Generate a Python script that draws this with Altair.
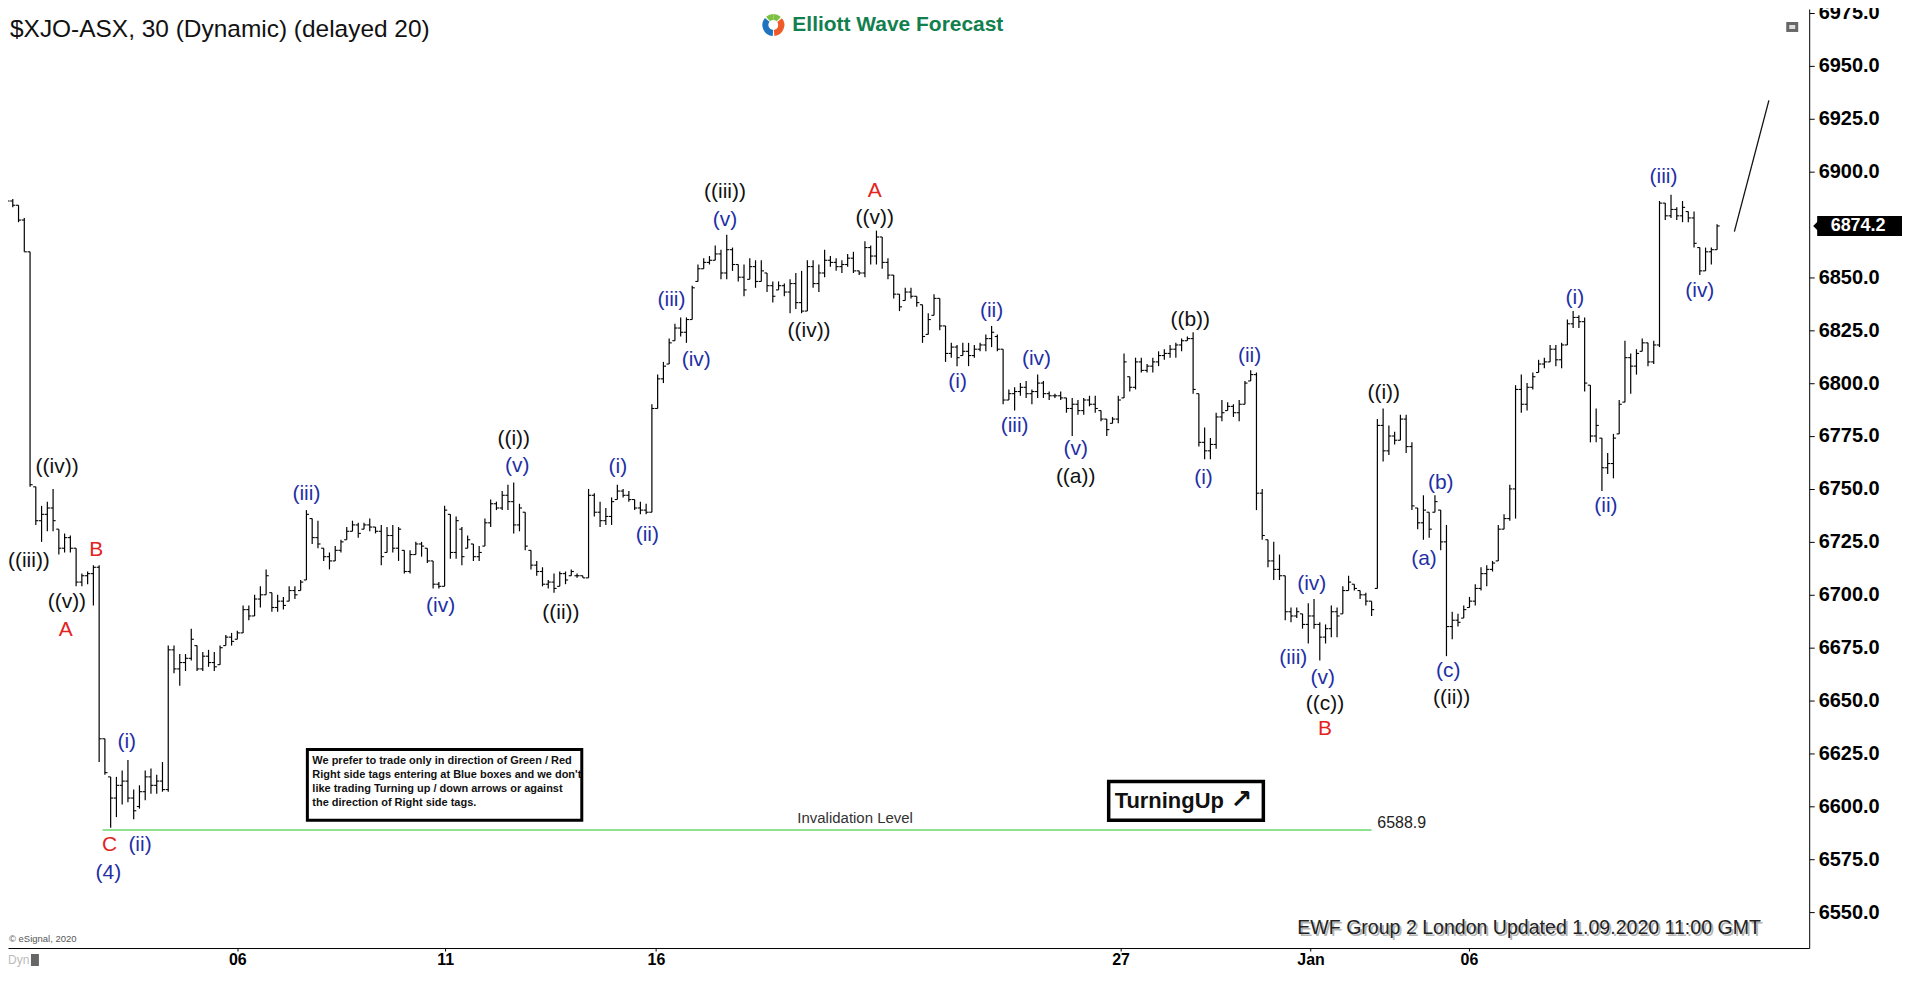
import altair as alt
import pandas as pd

# ---------------- price bars (30-minute OHLC, bar index 0..297) ----------------
highs = [
    6887, 6887, 6884, 6878, 6862, 6751, 6742, 6744, 6750, 6731,
    6729, 6728, 6722, 6710, 6711, 6714, 6714, 6632, 6614, 6614,
    6617, 6622, 6608, 6610, 6617, 6618, 6615, 6621, 6676, 6676,
    6672, 6672, 6684, 6676, 6673, 6674, 6673, 6676, 6681, 6682,
    6683, 6695, 6695, 6700, 6704, 6712, 6701, 6700, 6699, 6704,
    6704, 6707, 6740, 6736, 6735, 6722, 6720, 6723, 6726, 6732,
    6735, 6734, 6734, 6736, 6732, 6733, 6732, 6733, 6732, 6721,
    6721, 6725, 6725, 6722, 6716, 6706, 6742, 6738, 6737, 6732,
    6728, 6724, 6723, 6736, 6745, 6744, 6749, 6752, 6753, 6743,
    6739, 6721, 6716, 6713, 6707, 6710, 6711, 6711, 6712, 6710,
    6709, 6750, 6748, 6744, 6741, 6746, 6752, 6750, 6749, 6745,
    6744, 6743, 6790, 6804, 6810, 6821, 6828, 6831, 6831, 6846,
    6856, 6859, 6860, 6865, 6863, 6870, 6864, 6856, 6856, 6859,
    6858, 6858, 6852, 6848, 6848, 6847, 6849, 6852, 6853, 6858,
    6858, 6856, 6863, 6860, 6859, 6858, 6861, 6862, 6853, 6867,
    6865, 6872, 6869, 6859, 6851, 6842, 6845, 6845, 6841, 6837,
    6833, 6842, 6840, 6827, 6819, 6818, 6819, 6819, 6818, 6819,
    6823, 6827, 6823, 6816, 6797, 6798, 6800, 6801, 6797, 6804,
    6801, 6796, 6795, 6796, 6793, 6793, 6792, 6793, 6794, 6794,
    6787, 6783, 6784, 6794, 6814, 6803, 6812, 6812, 6809, 6812,
    6815, 6816, 6818, 6819, 6821, 6822, 6824, 6795, 6779, 6774,
    6786, 6792, 6791, 6790, 6792, 6801, 6806, 6805, 6750, 6726,
    6725, 6719, 6709, 6694, 6694, 6691, 6696, 6698, 6687, 6686,
    6695, 6694, 6704, 6709, 6705, 6702, 6701, 6697, 6783, 6788,
    6780, 6777, 6785, 6785, 6772, 6741, 6747, 6739, 6747, 6740,
    6733, 6692, 6691, 6695, 6699, 6705, 6713, 6714, 6716, 6733,
    6738, 6752, 6799, 6804, 6800, 6805, 6811, 6812, 6818, 6818,
    6819, 6830, 6834, 6832, 6831, 6799, 6788, 6774, 6767, 6776,
    6792, 6820, 6814, 6816, 6821, 6819, 6820, 6886, 6885, 6889,
    6883, 6886, 6881, 6881, 6864, 6864, 6864, 6875,
]
lows = [
    6884, 6883, 6876, 6862, 6751, 6733, 6725, 6730, 6730, 6719,
    6720, 6720, 6704, 6704, 6705, 6695, 6621, 6615, 6590, 6595,
    6601, 6602, 6594, 6599, 6603, 6606, 6606, 6607, 6607, 6663,
    6657, 6664, 6669, 6664, 6664, 6666, 6664, 6667, 6676, 6676,
    6679, 6682, 6688, 6690, 6694, 6700, 6692, 6692, 6693, 6697,
    6698, 6702, 6707, 6724, 6722, 6716, 6712, 6716, 6720, 6726,
    6730, 6727, 6731, 6730, 6729, 6714, 6720, 6720, 6716, 6710,
    6710, 6719, 6718, 6715, 6703, 6703, 6704, 6717, 6717, 6714,
    6722, 6716, 6716, 6723, 6732, 6740, 6740, 6740, 6729, 6730,
    6721, 6712, 6709, 6704, 6703, 6701, 6704, 6705, 6709, 6708,
    6708, 6708, 6737, 6732, 6733, 6733, 6745, 6746, 6744, 6740,
    6738, 6738, 6739, 6788, 6800, 6809, 6820, 6822, 6819, 6830,
    6848, 6854, 6856, 6858, 6849, 6849, 6853, 6848, 6841, 6849,
    6845, 6848, 6843, 6838, 6844, 6841, 6833, 6835, 6833, 6834,
    6845, 6843, 6850, 6855, 6853, 6852, 6855, 6852, 6851, 6850,
    6856, 6856, 6854, 6849, 6840, 6834, 6839, 6840, 6836, 6819,
    6823, 6832, 6825, 6810, 6812, 6808, 6813, 6808, 6812, 6815,
    6815, 6817, 6815, 6790, 6792, 6787, 6794, 6793, 6790, 6793,
    6793, 6792, 6793, 6792, 6786, 6775, 6785, 6785, 6789, 6786,
    6782, 6775, 6781, 6781, 6793, 6796, 6797, 6805, 6805, 6805,
    6808, 6811, 6812, 6812, 6815, 6820, 6795, 6770, 6764, 6764,
    6769, 6782, 6787, 6784, 6782, 6790, 6801, 6740, 6726, 6713,
    6707, 6707, 6688, 6687, 6689, 6684, 6677, 6684, 6669, 6677,
    6680, 6680, 6691, 6702, 6702, 6698, 6695, 6690, 6703, 6763,
    6766, 6771, 6773, 6767, 6740, 6731, 6726, 6727, 6739, 6721,
    6671, 6679, 6685, 6689, 6694, 6695, 6702, 6704, 6711, 6716,
    6731, 6735, 6736, 6786, 6787, 6797, 6805, 6807, 6810, 6808,
    6807, 6818, 6826, 6826, 6796, 6772, 6772, 6749, 6757, 6755,
    6776, 6791, 6795, 6804, 6815, 6808, 6809, 6817, 6877, 6878,
    6877, 6876, 6876, 6864, 6851, 6853, 6856, 6863,
]
opens = [
    6885, 6886, 6884, 6877, 6862, 6751, 6735, 6738, 6741, 6731,
    6722, 6727, 6722, 6706, 6709, 6710, 6713, 6632, 6614, 6604,
    6610, 6612, 6604, 6600, 6607, 6614, 6610, 6612, 6608, 6674,
    6665, 6668, 6670, 6676, 6665, 6671, 6668, 6667, 6676, 6680,
    6679, 6682, 6693, 6690, 6698, 6700, 6701, 6694, 6697, 6697,
    6702, 6702, 6707, 6736, 6727, 6722, 6718, 6716, 6721, 6726,
    6730, 6733, 6731, 6733, 6732, 6730, 6720, 6728, 6722, 6721,
    6711, 6719, 6724, 6722, 6716, 6705, 6704, 6738, 6720, 6731,
    6722, 6724, 6718, 6723, 6734, 6743, 6741, 6747, 6744, 6733,
    6739, 6721, 6714, 6711, 6705, 6706, 6704, 6710, 6709, 6709,
    6709, 6708, 6747, 6739, 6735, 6737, 6745, 6749, 6747, 6745,
    6741, 6740, 6739, 6788, 6802, 6809, 6820, 6826, 6824, 6830,
    6848, 6854, 6857, 6858, 6861, 6852, 6863, 6856, 6850, 6849,
    6855, 6848, 6852, 6846, 6844, 6846, 6843, 6847, 6838, 6834,
    6855, 6847, 6852, 6858, 6857, 6855, 6856, 6859, 6853, 6852,
    6864, 6860, 6869, 6857, 6851, 6842, 6839, 6843, 6841, 6837,
    6823, 6832, 6840, 6827, 6814, 6817, 6813, 6815, 6813, 6816,
    6818, 6821, 6822, 6816, 6792, 6795, 6796, 6798, 6795, 6796,
    6800, 6795, 6794, 6794, 6793, 6788, 6790, 6787, 6792, 6790,
    6787, 6783, 6781, 6783, 6793, 6803, 6798, 6810, 6806, 6808,
    6810, 6813, 6814, 6816, 6818, 6820, 6821, 6795, 6772, 6768,
    6771, 6784, 6787, 6789, 6786, 6790, 6801, 6804, 6748, 6726,
    6716, 6712, 6709, 6692, 6690, 6691, 6686, 6690, 6686, 6680,
    6684, 6692, 6691, 6702, 6705, 6702, 6700, 6697, 6703, 6780,
    6768, 6775, 6773, 6783, 6770, 6741, 6734, 6739, 6739, 6740,
    6725, 6685, 6688, 6689, 6694, 6697, 6703, 6710, 6712, 6716,
    6731, 6736, 6750, 6797, 6790, 6798, 6805, 6809, 6810, 6816,
    6811, 6818, 6828, 6831, 6829, 6799, 6775, 6774, 6760, 6762,
    6776, 6791, 6812, 6808, 6815, 6819, 6810, 6818, 6885, 6879,
    6882, 6879, 6881, 6878, 6864, 6853, 6862, 6863,
]
closes = [
    6886, 6884, 6877, 6862, 6752, 6735, 6738, 6741, 6735, 6722,
    6727, 6722, 6706, 6709, 6710, 6713, 6632, 6616, 6604, 6610,
    6612, 6604, 6598, 6607, 6614, 6610, 6612, 6608, 6674, 6665,
    6668, 6670, 6679, 6665, 6671, 6668, 6666, 6675, 6680, 6678,
    6682, 6693, 6690, 6698, 6700, 6709, 6694, 6697, 6695, 6702,
    6700, 6706, 6738, 6727, 6724, 6718, 6716, 6721, 6725, 6730,
    6733, 6729, 6733, 6732, 6730, 6718, 6728, 6722, 6731, 6711,
    6719, 6724, 6723, 6716, 6705, 6704, 6740, 6720, 6735, 6718,
    6726, 6718, 6720, 6734, 6743, 6741, 6747, 6744, 6733, 6741,
    6723, 6714, 6711, 6705, 6706, 6703, 6710, 6707, 6711, 6709,
    6708, 6747, 6739, 6735, 6737, 6744, 6749, 6747, 6745, 6741,
    6740, 6739, 6788, 6802, 6808, 6819, 6826, 6824, 6830, 6845,
    6854, 6857, 6858, 6861, 6852, 6863, 6856, 6850, 6844, 6855,
    6848, 6853, 6846, 6841, 6846, 6843, 6847, 6838, 6834, 6855,
    6847, 6852, 6858, 6857, 6855, 6856, 6859, 6853, 6852, 6864,
    6860, 6869, 6857, 6851, 6842, 6836, 6843, 6841, 6838, 6822,
    6830, 6840, 6827, 6814, 6817, 6812, 6815, 6813, 6816, 6818,
    6821, 6824, 6816, 6792, 6795, 6796, 6798, 6795, 6796, 6800,
    6795, 6794, 6794, 6793, 6788, 6790, 6787, 6792, 6790, 6788,
    6783, 6778, 6783, 6792, 6810, 6798, 6810, 6806, 6808, 6810,
    6813, 6814, 6816, 6818, 6820, 6821, 6797, 6772, 6768, 6771,
    6784, 6786, 6789, 6786, 6790, 6800, 6804, 6748, 6728, 6716,
    6712, 6709, 6692, 6690, 6692, 6686, 6690, 6686, 6680, 6684,
    6692, 6690, 6702, 6706, 6703, 6700, 6697, 6693, 6780, 6768,
    6775, 6773, 6783, 6770, 6742, 6734, 6740, 6731, 6744, 6725,
    6685, 6688, 6687, 6693, 6697, 6703, 6710, 6712, 6715, 6731,
    6736, 6750, 6797, 6790, 6798, 6803, 6809, 6810, 6816, 6811,
    6818, 6828, 6831, 6829, 6800, 6775, 6780, 6760, 6762, 6774,
    6790, 6812, 6808, 6814, 6819, 6810, 6818, 6885, 6879, 6882,
    6879, 6883, 6878, 6866, 6853, 6862, 6863, 6874.2,
]

# ---------------- axes ----------------
date_tick_idx = [40.0, 76.1, 112.7, 193.4, 226.4, 253.9]
date_tick_lbl = ["06", "11", "16", "27", "Jan", "06"]
price_ticks = [6550.0, 6575.0, 6600.0, 6625.0, 6650.0, 6675.0, 6700.0, 6725.0, 6750.0,
               6775.0, 6800.0, 6825.0, 6850.0, 6900.0, 6925.0, 6950.0, 6975.0]

# ---------------- Elliott wave labels ----------------
wave_text = ["((iii))", "((iv))", "B", "((v))", "A", "(i)", "C", "(ii)", "(4)", "(iii)",
             "(iv)", "((i))", "(v)", "((ii))", "(i)", "(ii)", "(iii)", "(iv)", "((iii))", "(v)",
             "((iv))", "A", "((v))", "(i)", "(ii)", "(iii)", "(iv)", "(v)", "((a))", "((b))",
             "(i)", "(ii)", "(iv)", "(iii)", "(v)", "((c))", "B", "((i))", "(b)", "(a)",
             "(c)", "((ii))", "(i)", "(ii)", "(iii)", "(iv)"]
wave_i = [3.8, 8.7, 15.5, 10.4, 10.2, 20.8, 17.8, 23.1, 17.6, 52.0,
          75.3, 88.0, 88.6, 96.2, 106.1, 111.2, 115.4, 119.7, 124.7, 124.7,
          139.3, 150.7, 150.7, 165.1, 171.0, 175.0, 178.8, 185.6, 185.6, 205.5,
          207.8, 215.8, 226.6, 223.4, 228.5, 228.9, 228.9, 239.1, 249.0, 246.1,
          250.3, 250.9, 272.3, 277.7, 287.7, 294.0]
wave_v = [6716.1, 6760.3, 6721.3, 6696.5, 6683.3, 6630.4, 6581.6, 6581.6, 6568.4, 6747.7,
          6694.8, 6773.5, 6760.9, 6691.3, 6760.3, 6728.2, 6839.0, 6810.9, 6890.2, 6877.0,
          6824.7, 6890.8, 6878.1, 6800.6, 6833.9, 6779.9, 6811.5, 6769.0, 6755.7, 6829.9,
          6755.2, 6812.6, 6705.2, 6670.1, 6660.9, 6648.3, 6636.8, 6795.4, 6752.9, 6716.7,
          6663.8, 6651.1, 6840.2, 6741.9, 6897.1, 6843.7]
wave_degree = ["minute", "minute", "inter", "minute", "inter", "minor", "inter", "minor", "minor", "minor",
               "minor", "minute", "minor", "minute", "minor", "minor", "minor", "minor", "minute", "minor",
               "minute", "inter", "minute", "minor", "minor", "minor", "minor", "minor", "minute", "minute",
               "minor", "minor", "minor", "minor", "minor", "minute", "inter", "minute", "minor", "minor",
               "minor", "minute", "minor", "minor", "minor", "minor"]

# invalidation level and projection
inval_level = 6588.9
inval_start, inval_end = 16.6, 237.0
inval_text_i = 147.3
proj_i = [300.0, 306.0]
proj_v = [6871.5, 6933.5]
last_price = 6874.2

disclaimer = ["We prefer to trade only in direction of Green / Red",
              "Right side tags entering at Blue boxes and we don't",
              "like trading Turning up / down arrows or against",
              "the direction of Right side tags."]

# ---------------- chart ----------------
PLOT_W, PLOT_H = 1805, 941
SANS = "Liberation Sans"
NARROW = "Liberation Sans Narrow, Arial Narrow, Liberation Sans"

xs = alt.Scale(domain=[0.17, 313.0], nice=False, zero=False)
ys = alt.Scale(domain=[6533.16, 6976.68], nice=False, zero=False)

bars = pd.DataFrame({"i": list(range(len(highs))), "open": opens, "high": highs,
                     "low": lows, "close": closes})

label_expr = "".join(f"datum.value == {v} ? '{t}' : " for v, t in zip(date_tick_idx, date_tick_lbl)) + "''"

x_axis = alt.Axis(values=date_tick_idx, labelExpr=label_expr, orient="bottom", grid=False,
                  title=None, domainColor="black", domainWidth=1, tickColor="black",
                  tickSize=3, labelPadding=1, labelFont=NARROW, labelFontSize=16,
                  labelFontWeight="bold", labelColor="black", labelOverlap=False,
                  labelFlush=False)
y_axis = alt.Axis(values=price_ticks, format=".1f", orient="right", grid=False, title=None,
                  domainColor="black", domainWidth=1, tickColor="black", tickSize=5,
                  labelPadding=4, labelFont=SANS, labelFontSize=20, labelFontWeight="bold",
                  labelColor="black", labelOverlap=False, labelFlush=False)


def X(field):
    return alt.X(field, scale=xs, axis=x_axis)


def Y(field):
    return alt.Y(field, scale=ys, axis=y_axis)


hl = alt.Chart(bars).mark_rule(color="black", strokeWidth=1.2).encode(
    x=X("i:Q"), y=Y("low:Q"), y2="high:Q")
open_t = alt.Chart(bars).transform_calculate(xa="datum.i - 0.45").mark_rule(
    color="black", strokeWidth=1.1).encode(x=X("xa:Q"), x2="i:Q", y=Y("open:Q"))
close_t = alt.Chart(bars).transform_calculate(xb="datum.i + 0.45").mark_rule(
    color="black", strokeWidth=1.1).encode(x=X("i:Q"), x2="xb:Q", y=Y("close:Q"))

waves = pd.DataFrame({"label": wave_text, "i": wave_i, "v": wave_v, "degree": wave_degree})
wave_layer = alt.Chart(waves).mark_text(font=SANS, fontSize=21, baseline="middle",
                                         align="center").encode(
    x=X("i:Q"), y=Y("v:Q"),
    text="label:N",
    color=alt.Color("degree:N", legend=None,
                    scale=alt.Scale(domain=["minute", "minor", "inter"],
                                    range=["#111111", "#1f2fa6", "#e3231e"])),
)

inval_df = pd.DataFrame({"i0": [inval_start], "i1": [inval_end], "v": [inval_level],
                         "ti": [inval_text_i], "li": [inval_end + 1.0],
                         "lbl": [f"{inval_level:.1f}"]})
inval_line = alt.Chart(inval_df).mark_rule(color="#6bd86b", strokeWidth=1.6).encode(
    x=X("i0:Q"), x2="i1:Q", y=Y("v:Q"))
inval_txt = alt.Chart(inval_df).mark_text(text="Invalidation Level", font=SANS, fontSize=15,
                                          color="#333333", dy=-12, align="center").encode(
    x=X("ti:Q"), y=Y("v:Q"))
inval_val = alt.Chart(inval_df).mark_text(font=SANS, fontSize=16, color="#222222",
                                          dy=-7, align="left").encode(
    x=X("li:Q"), y=Y("v:Q"), text="lbl:N")

proj = alt.Chart(pd.DataFrame({"i": proj_i, "v": proj_v})).mark_line(
    color="#111111", strokeWidth=1.3).encode(x=X("i:Q"), y=Y("v:Q"))

one = pd.DataFrame({"k": [0]})


def ptext(txt, x, y, **kw):
    return alt.Chart(one).mark_text(text=txt, **kw).encode(x=alt.value(x), y=alt.value(y))


def prect(x, x2, y, y2, **kw):
    return alt.Chart(one).mark_rect(**kw).encode(
        x=alt.value(x), x2=alt.value(x2), y=alt.value(y), y2=alt.value(y2))


title = ptext("$XJO-ASX, 30 (Dynamic) (delayed 20)", 2, 21, font=SANS, fontSize=24.5,
              align="left", baseline="middle", color="#111111")

LOGO_X, LOGO_Y = 767, 16
logo_parts = [
    alt.Chart(one).mark_arc(radius=11, radius2=5, theta=5.55, theta2=6.2832, color="#7cc242").encode(
        x=alt.value(LOGO_X), y=alt.value(LOGO_Y)),
    alt.Chart(one).mark_arc(radius=11, radius2=5, theta=0.0, theta2=0.75, color="#7cc242").encode(
        x=alt.value(LOGO_X), y=alt.value(LOGO_Y)),
    alt.Chart(one).mark_arc(radius=11, radius2=5, theta=0.9, theta2=3.05, color="#f05a28").encode(
        x=alt.value(LOGO_X), y=alt.value(LOGO_Y)),
    alt.Chart(one).mark_arc(radius=11, radius2=5, theta=3.2, theta2=5.4, color="#1f74bd").encode(
        x=alt.value(LOGO_X), y=alt.value(LOGO_Y)),
    ptext("Elliott Wave Forecast", 786, LOGO_Y, font=SANS, fontSize=21, fontWeight="bold",
          align="left", baseline="middle", color="#12804e"),
]

corner_icon = [
    prect(1782, 1794, 13, 23, fill="#666666"),
    prect(1785, 1791, 16, 20, fill="#dddddd"),
]

disc_box = prect(300, 575, 742, 813, fill="white", stroke="black", strokeWidth=3)
disc_txt = alt.Chart(one).mark_text(text="\n".join(disclaimer), lineBreak="\n", lineHeight=14,
                                    font=SANS, fontSize=11, fontWeight="bold", align="left",
                                    baseline="top", color="#111111").encode(
    x=alt.value(305), y=alt.value(748))

turn_box = prect(1103, 1258, 774, 813, fill="white", stroke="black", strokeWidth=3.5)
turn_txt = ptext("TurningUp", 1109, 794, font=SANS, fontSize=22, fontWeight="bold",
                 align="left", baseline="middle", color="#111111")
turn_arrow = ptext("↗", 1236, 793, font="DejaVu Sans", fontSize=26, fontWeight="bold",
                   align="center", baseline="middle", color="#111111")

esignal = ptext("© eSignal, 2020", 1, 932, font=SANS, fontSize=9.5, align="left",
                baseline="middle", color="#555555")
ewf_shadow = ptext("EWF Group 2 London Updated 1.09.2020 11:00 GMT", 1294, 923, font=SANS,
                   fontSize=19.6, align="left", baseline="middle", color="#b5b5b5")
ewf = ptext("EWF Group 2 London Updated 1.09.2020 11:00 GMT", 1292, 921, font=SANS,
            fontSize=19.6, align="left", baseline="middle", color="#222222")
dyn = ptext("Dyn", 0, 953, font=NARROW, fontSize=12, align="left", baseline="middle",
            color="#bbbbbb")
dyn_icon = prect(23, 31, 947, 959, fill="#666666")

tag_df = pd.DataFrame({"v": [last_price], "lbl": [f"{last_price:.1f}"]})
tag_rect = alt.Chart(tag_df).mark_rect(color="black", yOffset=-10, y2Offset=10).encode(
    x=alt.value(1813), x2=alt.value(1898), y=Y("v:Q"), y2="v:Q")
tag_tri = alt.Chart(tag_df).mark_point(shape="M -0.5 0 L 0 -0.5 L 0 0.5 Z", size=400,
                                       filled=True, color="black", opacity=1).encode(
    x=alt.value(1814), y=Y("v:Q"))
tag_txt = alt.Chart(tag_df).mark_text(font=SANS, fontSize=18, fontWeight="bold",
                                      color="white", align="center", baseline="middle").encode(
    x=alt.value(1854), y=Y("v:Q"), text="lbl:N")

chart = alt.layer(
    hl, open_t, close_t, inval_line, inval_txt, inval_val, proj, wave_layer,
    title, *logo_parts, *corner_icon, disc_box, disc_txt, turn_box, turn_txt, turn_arrow,
    esignal, ewf_shadow, ewf, dyn, dyn_icon, tag_rect, tag_tri, tag_txt,
).properties(
    width=PLOT_W, height=PLOT_H,
    autosize=alt.AutoSizeParams(type="none"),
    padding={"left": 0, "top": 0, "right": 95, "bottom": 19},
    background="white",
).configure_view(strokeWidth=0)

chart.save("out.html", embed_options={"renderer": "svg", "actions": False})
